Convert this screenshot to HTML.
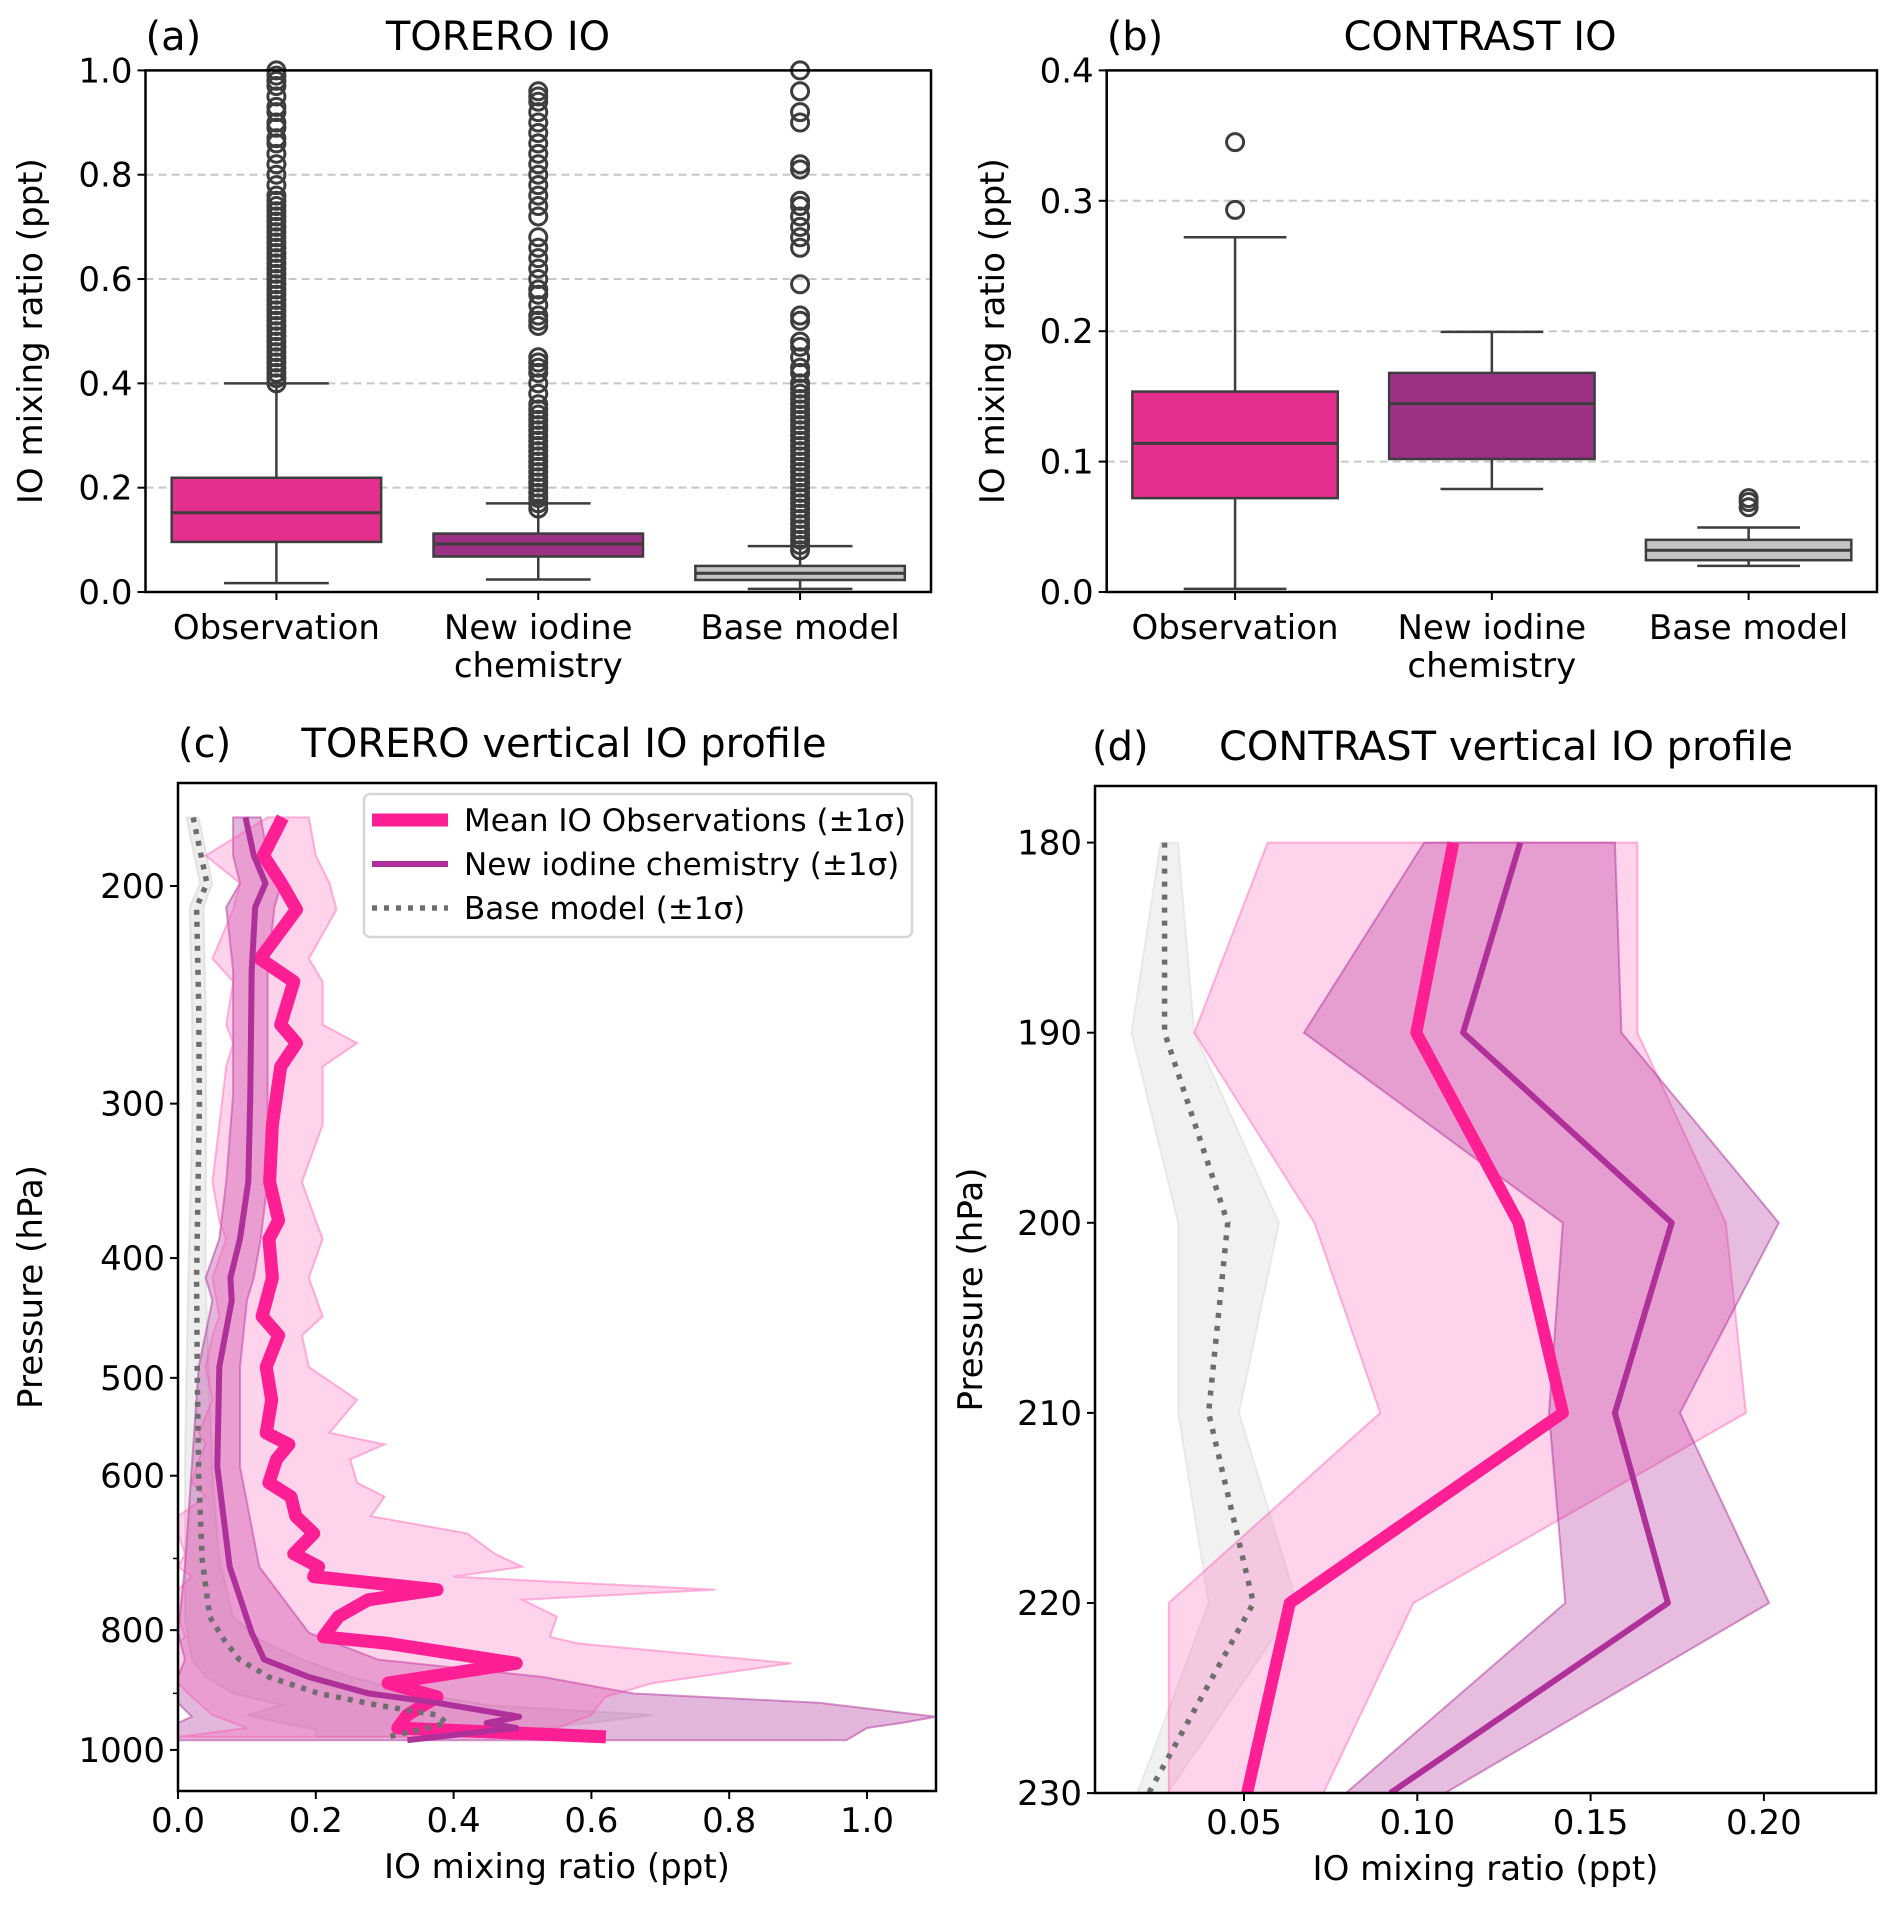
<!DOCTYPE html>
<html><head><meta charset="utf-8">
<style>
html,body{margin:0;padding:0;background:#fff;}
svg{display:block;font-family:"DejaVu Sans","Liberation Sans",sans-serif;}
</style></head>
<body>
<svg id="fig" xmlns="http://www.w3.org/2000/svg" width="1892" height="1911" viewBox="0 0 1892 1911">
<rect width="1892" height="1911" fill="#fff"/>
</svg>
<script>
// ---------- Panel (a) TORERO box plot data ----------
const boxCats = ["Observation", "New iodine|chemistry", "Base model"];
const aLo = [0.017, 0.024, 0.006];
const aQ1 = [0.096, 0.068, 0.023];
const aMed = [0.152, 0.092, 0.036];
const aQ3 = [0.219, 0.112, 0.050];
const aHi = [0.400, 0.170, 0.088];
const aOutObs = [0.40,0.41,0.42,0.43,0.44,0.45,0.46,0.47,0.48,0.49,0.50,0.51,0.52,0.53,0.54,0.55,0.56,0.57,0.58,0.59,0.60,0.61,0.62,0.63,0.64,0.65,0.66,0.67,0.68,0.69,0.70,0.71,0.72,0.73,0.74,0.75,0.76,0.78,0.80,0.82,0.84,0.86,0.87,0.89,0.90,0.92,0.93,0.95,0.97,0.98,0.99,1.0];
const aOutNic = [0.16,0.17,0.18,0.19,0.20,0.21,0.22,0.23,0.24,0.25,0.26,0.27,0.28,0.29,0.30,0.31,0.32,0.33,0.34,0.35,0.36,0.38,0.40,0.42,0.43,0.44,0.45,0.51,0.52,0.53,0.55,0.57,0.58,0.60,0.62,0.64,0.66,0.68,0.72,0.74,0.76,0.78,0.80,0.82,0.84,0.86,0.88,0.90,0.92,0.94,0.95,0.96];
const aOutBase = [0.08,0.09,0.10,0.11,0.12,0.13,0.14,0.15,0.16,0.17,0.18,0.19,0.20,0.21,0.22,0.23,0.24,0.25,0.26,0.27,0.28,0.29,0.30,0.31,0.32,0.33,0.34,0.35,0.36,0.37,0.38,0.39,0.40,0.42,0.43,0.45,0.47,0.48,0.52,0.53,0.59,0.66,0.68,0.70,0.72,0.74,0.75,0.81,0.82,0.90,0.92,0.96,1.0];
const aTicks = [0.0, 0.2, 0.4, 0.6, 0.8, 1.0];
// ---------- Panel (b) CONTRAST box plot data ----------
const bLo = [0.0024, 0.079, 0.020];
const bQ1 = [0.072, 0.102, 0.0244];
const bMed = [0.114, 0.1445, 0.032];
const bQ3 = [0.1537, 0.168, 0.040];
const bHi = [0.272, 0.1995, 0.0495];
const bOutObs = [0.293, 0.345];
const bOutNic = [];
const bOutBase = [0.065, 0.069, 0.072];
const bTicks = [0.0, 0.1, 0.2, 0.3, 0.4];
// ---------- Panel (c) TORERO profile ----------
const obsP = [176,189,199,209,229,239,259,268,280,312,347,373,386,415,446,462,490,521,554,566,582,608,624,647,668,694,711,724,742,756,780,810,820,851,883,906,937,960,976];
const obsM = [0.152,0.124,0.15,0.172,0.119,0.168,0.149,0.172,0.149,0.137,0.133,0.146,0.132,0.137,0.122,0.146,0.128,0.136,0.128,0.161,0.143,0.132,0.164,0.171,0.197,0.168,0.204,0.197,0.376,0.276,0.233,0.211,0.305,0.491,0.305,0.376,0.333,0.319,0.621];
const obsHi = [0.19,0.20,0.22,0.23,0.19,0.21,0.21,0.26,0.21,0.21,0.18,0.20,0.21,0.19,0.21,0.18,0.19,0.26,0.22,0.30,0.25,0.26,0.30,0.28,0.42,0.46,0.50,0.40,0.78,0.50,0.55,0.54,0.58,0.89,0.69,0.62,0.60,0.55,0.45];
const obsLo = [0.13,0.04,0.09,0.08,0.05,0.08,0.07,0.08,0.07,0.06,0.05,0.06,0.07,0.05,0.06,0.05,0.04,0.05,0.03,0.04,0.03,0.02,0.04,0.0,0.0,0.01,0.0,0.02,0.0,0.0,0.0,0.01,0.0,0.0,0.0,0.02,0.05,0.1,0.0];
const nicP = [176,189,199,208,234,295,347,386,415,433,490,590,711,804,845,873,900,916,940,951,960,982];
const nicM = [0.098,0.11,0.127,0.112,0.107,0.105,0.102,0.09,0.076,0.078,0.06,0.057,0.075,0.107,0.125,0.19,0.276,0.376,0.495,0.448,0.491,0.333];
const nicHi = [0.12,0.13,0.15,0.14,0.13,0.13,0.13,0.12,0.11,0.10,0.09,0.09,0.118,0.19,0.29,0.53,0.66,0.93,1.10,1.05,1.0,0.97];
const nicLo = [0.08,0.08,0.09,0.07,0.08,0.08,0.07,0.06,0.04,0.05,0.03,0.02,0.01,0.0,0.01,0.0,0.0,0.0,0.02,0.0,0.0,0.0];
const baseP = [176,199,208,250,300,415,500,600,700,780,815,845,873,900,920,937,951,963,976];
const baseM = [0.022,0.042,0.027,0.03,0.031,0.027,0.028,0.03,0.035,0.046,0.067,0.089,0.132,0.204,0.29,0.376,0.39,0.35,0.305];
const baseHi = [0.03,0.05,0.037,0.04,0.041,0.04,0.045,0.05,0.06,0.08,0.12,0.18,0.25,0.35,0.45,0.69,0.6,0.5,0.4];
const baseLo = [0.012,0.032,0.017,0.02,0.021,0.015,0.012,0.01,0.01,0.01,0.015,0.02,0.04,0.08,0.15,0.1,0.15,0.2,0.2];
const cXTicks = [0.0,0.2,0.4,0.6,0.8,1.0];
const cYTicks = [200,300,400,500,600,800,1000];
const cYMinor = [700,900];
// ---------- Panel (d) CONTRAST profile ----------
const dP = [180,190,200,210,220,230];
const dObsM = [0.1104,0.0997,0.1292,0.142,0.0632,0.0509];
const dObsLo = [0.0568,0.0357,0.0703,0.0893,0.0283,0.0283];
const dObsHi = [0.1635,0.1635,0.189,0.1948,0.0989,0.0729];
const dNicM = [0.1297,0.1132,0.1734,0.157,0.1723,0.0922];
const dNicLo = [0.102,0.0673,0.142,0.138,0.1427,0.0794];
const dNicHi = [0.157,0.1589,0.2043,0.1758,0.2015,0.108];
const dBaseM = [0.0271,0.0271,0.0453,0.0398,0.0527,0.0225];
const dBaseLo = [0.0259,0.0175,0.031,0.031,0.0398,0.0192];
const dBaseHi = [0.031,0.0357,0.0601,0.0486,0.0653,0.028];
const dXTicks = [0.05,0.10,0.15,0.20];
const dYTicks = [180,190,200,210,220,230];

const TICK = 34, TITLE = 40, AXT = 34;
const NS = "http://www.w3.org/2000/svg";
const svg = document.getElementById("fig");
function mk(tag, attrs, parent) {
  const e = document.createElementNS(NS, tag);
  for (const k in attrs) e.setAttribute(k, attrs[k]);
  (parent || svg).appendChild(e);
  return e;
}
function txt(str, x, y, size, anchor, parent, rot) {
  const t = mk("text", {x: x, y: y, "font-size": size, "text-anchor": anchor || "middle", fill: "#000"}, parent);
  if (rot) t.setAttribute("transform", "rotate(-90 " + x + " " + y + ")");
  t.textContent = str;
  return t;
}

function boxPanel(name, L, R, T, B, ymax, ticks, lo, q1, med, q3, hi, outs, letter, title, titleX, labelX) {
  const g = mk("g", {});
  
  
  const y = v => B - v / ymax * (B - T);
  const step = (R - L) / 3;
  const cx = i => L + step * (i + 0.5);
  ticks.forEach(t => {
    if (t === 0 || t === ymax) return;
    const gl = mk("line", {x1: L, x2: R, y1: y(t), y2: y(t), stroke: "#c8c8c8", "stroke-width": 2, "stroke-dasharray": "8,5"}, g);
    
    
  });
  const fills = ["#e3308f", "#9b3285", "#c4c4c4"];
  const ec = "#3d3d3d";
  for (let i = 0; i < 3; i++) {
    const bg = mk("g", {}, g);
    
    
    const bw = step * 0.8, hw = bw / 2, cw = bw / 4;
    mk("line", {x1: cx(i), x2: cx(i), y1: y(lo[i]), y2: y(q1[i]), stroke: ec, "stroke-width": 2.5}, bg);
    mk("line", {x1: cx(i), x2: cx(i), y1: y(q3[i]), y2: y(hi[i]), stroke: ec, "stroke-width": 2.5}, bg);
    mk("line", {x1: cx(i) - cw, x2: cx(i) + cw, y1: y(lo[i]), y2: y(lo[i]), stroke: ec, "stroke-width": 2.5}, bg);
    mk("line", {x1: cx(i) - cw, x2: cx(i) + cw, y1: y(hi[i]), y2: y(hi[i]), stroke: ec, "stroke-width": 2.5}, bg);
    mk("rect", {x: cx(i) - hw, y: y(q3[i]), width: bw, height: y(q1[i]) - y(q3[i]), fill: fills[i], stroke: ec, "stroke-width": 2.5}, bg);
    mk("line", {x1: cx(i) - hw, x2: cx(i) + hw, y1: y(med[i]), y2: y(med[i]), stroke: ec, "stroke-width": 3}, bg);
    outs[i].forEach(v => {
      const c = mk("circle", {cx: cx(i), cy: y(v), r: 8.5, fill: "none", stroke: ec, "stroke-width": 3}, bg);
      
      
    });
  }
  const fr = mk("rect", {x: L, y: T, width: R - L, height: B - T, fill: "none", stroke: "#000", "stroke-width": 2.5}, g);
  
  
  ticks.forEach(t => {
    mk("line", {x1: L - 8, x2: L, y1: y(t), y2: y(t), stroke: "#000", "stroke-width": 2}, g);
    const tl = txt(t.toFixed(1), L - 13, y(t) + 12, TICK, "end", g);
    
    
  });
  boxCats.forEach((c, i) => {
    mk("line", {x1: cx(i), x2: cx(i), y1: B, y2: B + 8, stroke: "#000", "stroke-width": 2}, g);
    c.split("|").forEach((ln, j) => {
      const tl = txt(ln, cx(i), 639 + j * 38, TICK, "middle", g);
      
      
    });
  });
  const yl = txt("IO mixing ratio (ppt)", labelX, (T + B) / 2, AXT, "middle", g, true);
  
  
  const pl = txt(letter, L, 50, TITLE, "start", g);
  
  
  const tt = txt(title, titleX, 50, TITLE, "middle", g);
  
  
}

boxPanel("panel-a-torero-io", 145.5, 931, 70.4, 592, 1.0, aTicks, aLo, aQ1, aMed, aQ3, aHi, [aOutObs, aOutNic, aOutBase], "(a)", "TORERO IO", 498, 42);
boxPanel("panel-b-contrast-io", 1106.7, 1877, 70.4, 592, 0.4, bTicks, bLo, bQ1, bMed, bQ3, bHi, [bOutObs, bOutNic, bOutBase], "(b)", "CONTRAST IO", 1480, 1004);

function ptsLine(P, X, xs, ys) { return P.map((p, i) => xs(X[i]).toFixed(1) + "," + ys(p).toFixed(1)).join(" "); }
function bandPts(P, lo, hi, xs, ys) {
  const a = P.map((p, i) => xs(hi[i]).toFixed(1) + "," + ys(p).toFixed(1));
  const b = P.slice().reverse().map((p, k) => { const i = P.length - 1 - k; return xs(lo[i]).toFixed(1) + "," + ys(p).toFixed(1); });
  return a.concat(b).join(" ");
}
const cObsCol = "#ff1f94", cNicCol = "#b0309a", cBaseCol = "#6e6e6e";

function profilePanel(name, L, R, T, B, xs, ys, series, clipId) {
  const g = mk("g", {});
  
  
  const defs = mk("defs", {}, g);
  const cp = mk("clipPath", {id: clipId}, defs);
  mk("rect", {x: L, y: T, width: R - L, height: B - T}, cp);
  const inner = mk("g", {"clip-path": "url(#" + clipId + ")"}, g);
  series.forEach(s => {
    const band = mk("polygon", {points: bandPts(s.P, s.lo, s.hi, xs, ys), fill: s.fill, "fill-opacity": s.fo, stroke: s.fill, "stroke-opacity": s.so, "stroke-width": 2}, inner);
    
    
  });
  series.slice().reverse().forEach(s => {
    const ln = mk("polyline", {points: ptsLine(s.P, s.M, xs, ys), fill: "none", stroke: s.col, "stroke-width": s.w, "stroke-linejoin": "round"}, inner);
    if (s.dash) ln.setAttribute("stroke-dasharray", s.dash);
    
    
  });
  const fr = mk("rect", {x: L, y: T, width: R - L, height: B - T, fill: "none", stroke: "#000", "stroke-width": 2.5}, g);
  
  
  return g;
}

// Panel c
(function () {
  const L = 178, R = 936, T = 783, B = 1791;
  const xs = v => L + v * 689;
  const ys = p => 886 + Math.log10(p / 200) * 1236;
  const g = profilePanel("panel-c-torero-profile", L, R, T, B, xs, ys, [
    {name: "base-model", P: baseP, M: baseM, lo: baseLo, hi: baseHi, fill: "#b0b0b0", fo: 0.22, so: 0.25, col: cBaseCol, w: 5.5, dash: "5,7"},
    {name: "new-iodine-chemistry", P: nicP, M: nicM, lo: nicLo, hi: nicHi, fill: "#b0309a", fo: 0.35, so: 0.5, col: cNicCol, w: 6},
    {name: "mean-io-observations", P: obsP, M: obsM, lo: obsLo, hi: obsHi, fill: "#ff4fae", fo: 0.25, so: 0.4, col: cObsCol, w: 13}
  ], "clipc");
  cXTicks.forEach(t => {
    mk("line", {x1: xs(t), x2: xs(t), y1: B, y2: B + 8, stroke: "#000", "stroke-width": 2}, g);
    const tl = txt(t.toFixed(1), xs(t), 1832, TICK, "middle", g);
    
    
  });
  cYTicks.forEach(t => {
    mk("line", {x1: L - 8, x2: L, y1: ys(t), y2: ys(t), stroke: "#000", "stroke-width": 2}, g);
    const tl = txt(String(t), L - 13, ys(t) + 12, TICK, "end", g);
    
    
  });
  cYMinor.forEach(t => mk("line", {x1: L - 5, x2: L, y1: ys(t), y2: ys(t), stroke: "#000", "stroke-width": 1.5}, g));
  const xl = txt("IO mixing ratio (ppt)", (L + R) / 2, 1878, AXT, "middle", g);
  
  
  const yl = txt("Pressure (hPa)", 42, (T + B) / 2, AXT, "middle", g, true);
  
  
  const pl = txt("(c)", L, 757, TITLE, "start", g);
  
  
  const tt = txt("TORERO vertical IO profile", 564, 757, TITLE, "middle", g);
  
  
  const lg = mk("g", {}, g);
  
  
  mk("rect", {x: 364, y: 794, width: 548, height: 143, rx: 6, fill: "#fff", "fill-opacity": 0.85, stroke: "#d6d6d6", "stroke-width": 2.5}, lg);
  const ents = [["Mean IO Observations (±1σ)", cObsCol, 13, null], ["New iodine chemistry (±1σ)", cNicCol, 6, null], ["Base model (±1σ)", cBaseCol, 5.5, "5,7"]];
  ents.forEach((e, i) => {
    const yy = 820 + i * 44;
    const eg = mk("g", {}, lg);
    
    
    const l = mk("line", {x1: 372, x2: 448, y1: yy, y2: yy, stroke: e[1], "stroke-width": e[2]}, eg);
    if (e[3]) l.setAttribute("stroke-dasharray", e[3]);
    txt(e[0], 464, yy + 11, 31, "start", eg);
  });
})();

// Panel d
(function () {
  const L = 1095, R = 1876, T = 786, B = 1793;
  const xs = v => 1244 + (v - 0.05) * 3466;
  const ys = p => 842.6 + (p - 180) * 19.01;
  const g = profilePanel("panel-d-contrast-profile", L, R, T, B, xs, ys, [
    {name: "base-model", P: dP, M: dBaseM, lo: dBaseLo, hi: dBaseHi, fill: "#b0b0b0", fo: 0.18, so: 0.2, col: cBaseCol, w: 5.5, dash: "5,8"},
    {name: "mean-io-observations", P: dP, M: dObsM, lo: dObsLo, hi: dObsHi, fill: "#ff4fae", fo: 0.25, so: 0.4, col: cObsCol, w: 12},
    {name: "new-iodine-chemistry", P: dP, M: dNicM, lo: dNicLo, hi: dNicHi, fill: "#b0309a", fo: 0.32, so: 0.5, col: cNicCol, w: 6}
  ], "clipd");
  dXTicks.forEach(t => {
    mk("line", {x1: xs(t), x2: xs(t), y1: B, y2: B + 8, stroke: "#000", "stroke-width": 2}, g);
    const tl = txt(t.toFixed(2), xs(t), 1834, TICK, "middle", g);
    
    
  });
  dYTicks.forEach(t => {
    mk("line", {x1: L - 8, x2: L, y1: ys(t), y2: ys(t), stroke: "#000", "stroke-width": 2}, g);
    const tl = txt(String(t), L - 13, ys(t) + 12, TICK, "end", g);
    
    
  });
  const xl = txt("IO mixing ratio (ppt)", (L + R) / 2, 1880, AXT, "middle", g);
  
  
  const yl = txt("Pressure (hPa)", 982, (T + B) / 2, AXT, "middle", g, true);
  
  
  const pl = txt("(d)", 1092, 760, TITLE, "start", g);
  
  
  const tt = txt("CONTRAST vertical IO profile", 1506, 760, TITLE, "middle", g);
  
  
})();
</script>
</body></html>
